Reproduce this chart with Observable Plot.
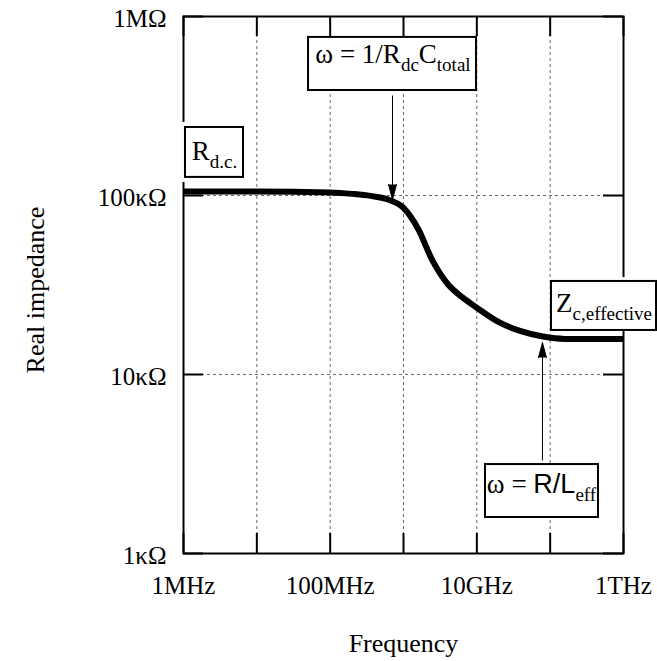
<!DOCTYPE html>
<html><head><meta charset="utf-8">
<script src="https://cdn.jsdelivr.net/npm/d3@7"></script>
<script src="https://cdn.jsdelivr.net/npm/@observablehq/plot@0.6"></script>
<style>html,body{margin:0;padding:0;background:#fff;}</style>
</head><body><div id="chart"></div>
<script>
// Curve: frequency (Hz) vs real impedance (Ω)
const frequency = [1e6, 1e7, 1e8, 2.0e8, 3.55e8, 6.31e8, 1e9, 1.58e9, 2.51e9, 3.98e9, 6.31e9, 1e10, 2.0e10, 3.98e10, 7.94e10, 1.58e11, 1e12];
const impedance = [105200, 105200, 104000, 102100, 99500, 94600, 85300, 65200, 42950, 32140, 27040, 23600, 19590, 17460, 16290, 15810, 15780];

// Axes
const xTicks = [1e6, 1e7, 1e8, 1e9, 1e10, 1e11, 1e12];
const xGrid = [1e7, 1e8, 1e9, 1e10, 1e11];
const xLabelValues = [1e6, 1e8, 1e10, 1e12];
const xLabelText = ["1MHz", "100MHz", "10GHz", "1THz"];
const yTicks = [1e3, 1e4, 1e5, 1e6];
const yGrid = [1e4, 1e5];
const yLabelText = ["1κΩ", "10κΩ", "100κΩ", "1MΩ"];

// Annotation boxes (data coordinates)
const boxLabels = ["R_{d.c.}", "ω = 1/R_{dc}C_{total}", "Z_{c,effective}", "ω = [R/L]_{eff}"];
const boxFreqFrom = [1.064e6, 5.07e7, 1.042e11, 1.312e10];
const boxFreqTo = [6.58e6, 9.89e9, 2.82e12, 4.56e11];
const boxImpFrom = [1.262e5, 3.86e5, 1.762e4, 1.589e3];
const boxImpTo = [2.399e5, 7.64e5, 3.31e4, 3.14e3];
const labelFreq = [2.65e6, 7.19e8, 5.42e11, 7.62e10];
const labelImp = [1.774e5, 6.14e5, 2.49e4, 2.43e3];

// Breaks in the frame next to boxes
const gapFreq = [1e6, 1e12];
const gapImpFrom = [1.183e5, 3.2e4];
const gapImpTo = [2.56e5, 3.48e4];

// Arrows
const arrowFreq = [7.08e8, 7.85e10];
const arrowFrom = [3.62e5, 3.31e3];
const arrowTo = [9.5e4, 1.507e4];

const curve = frequency.map((f, i) => ({f, z: impedance[i]}));
const serif = "'Liberation Serif', 'Times New Roman', serif";

const chart = Plot.plot({
  width: 657,
  height: 661,
  marginLeft: 183,
  marginRight: 34,
  marginTop: 16,
  marginBottom: 108,
  style: {fontFamily: serif, background: "white", color: "black"},
  x: {type: "log", domain: [1e6, 1e12]},
  y: {type: "log", domain: [1e3, 1e6]},
  marks: [
    Plot.gridX(xGrid, {stroke: "#444", strokeOpacity: 1, strokeWidth: 0.8, strokeDasharray: "3,3"}),
    Plot.gridY(yGrid, {stroke: "#444", strokeOpacity: 1, strokeWidth: 0.8, strokeDasharray: "3,3"}),
    Plot.ruleX(xTicks, {insetTop: 517, strokeWidth: 2}),
    Plot.ruleX(xTicks, {insetBottom: 517, strokeWidth: 2}),
    Plot.ruleY(yTicks, {insetRight: 420, strokeWidth: 2}),
    Plot.ruleY(yTicks, {insetLeft: 420, strokeWidth: 2}),
    Plot.frame({stroke: "black", strokeWidth: 2}),
    Plot.rect(gapFreq, {x1: gapFreq, x2: gapFreq, y1: gapImpFrom, y2: gapImpTo, insetLeft: -3, insetRight: -3, fill: "white"}),
    Plot.line(curve, {x: "f", y: "z", stroke: "black", strokeWidth: 6, curve: "monotone-x", strokeLinecap: "butt"}),
    Plot.axisX(xLabelValues, {anchor: "bottom", tickSize: 0, tickPadding: 23, fontSize: 25, label: null,
      tickFormat: d => xLabelText[xLabelValues.indexOf(d)]}),
    Plot.axisY(yTicks, {anchor: "left", tickSize: 0, tickPadding: 17, fontSize: 25, label: null, dy: 2,
      tickFormat: d => yLabelText[yTicks.indexOf(d)]}),
    Plot.link(arrowFreq, {x1: arrowFreq, x2: arrowFreq, y1: arrowFrom, y2: arrowTo, stroke: "black", strokeWidth: 1}),
    Plot.vector(arrowFreq, {x: arrowFreq, y: arrowTo, shape: "spike", length: 15, r: 4, anchor: "end",
      rotate: (d, i) => arrowTo[i] < arrowFrom[i] ? 180 : 0, fill: "black", stroke: "black", strokeWidth: 1}),
    Plot.rect(boxLabels, {x1: boxFreqFrom, x2: boxFreqTo, y1: boxImpFrom, y2: boxImpTo, fill: "white", stroke: "black", strokeWidth: 2}),
    Plot.text(boxLabels, {x: labelFreq, y: labelImp, text: d => d, fontSize: 27, fill: "black"}),
    Plot.text(["Frequency"], {frameAnchor: "bottom", dy: 90, textAnchor: "middle", lineAnchor: "middle", text: d => d, fontSize: 26, fill: "black"}),
    Plot.text(["Real impedance"], {frameAnchor: "left", dx: -148, dy: 5, rotate: -90, textAnchor: "middle", lineAnchor: "middle", text: d => d, fontSize: 26, fill: "black"})
  ]
});

// Rich text: _{...} subscript, [...] sans-serif
const svgNS = "http://www.w3.org/2000/svg";
chart.querySelectorAll("text").forEach(el => {
  const s = el.textContent;
  if (!/_\{|\[/.test(s)) return;
  el.textContent = "";
  const re = /\[([^\]]*)\]|_\{([^}]*)\}|([^\[_]+)/g;
  let m, sub = false;
  const shift = 8;
  while ((m = re.exec(s))) {
    const t = document.createElementNS(svgNS, "tspan");
    if (m[2] !== undefined) {
      t.textContent = m[2];
      t.setAttribute("font-size", 19);
      if (!sub) t.setAttribute("dy", shift);
      sub = true;
    } else {
      t.textContent = m[1] !== undefined ? m[1] : m[3];
      if (m[1] !== undefined) t.setAttribute("font-family", "'Liberation Sans', Arial, sans-serif");
      if (sub) { t.setAttribute("dy", -shift); sub = false; }
    }
    el.appendChild(t);
  }
});

document.getElementById("chart").append(chart);
</script>
</body></html>
